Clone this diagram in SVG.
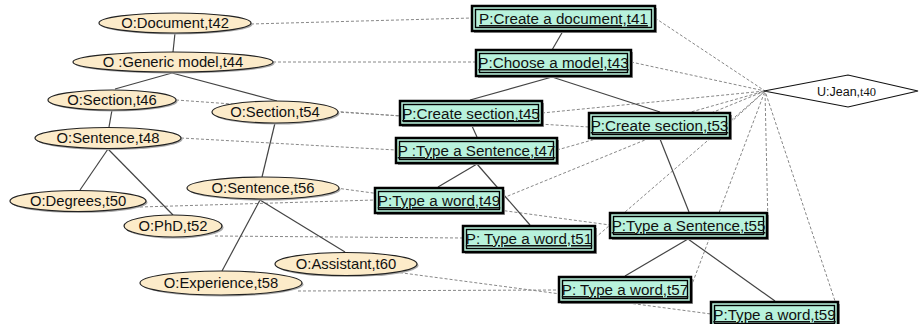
<svg xmlns="http://www.w3.org/2000/svg" width="919" height="324" viewBox="0 0 919 324">
<style>
.o ellipse.f{fill:#fcebc9;stroke:#222;stroke-width:1.2}
.o ellipse.s{fill:#aaa}
.p rect.s{fill:#999}
.p rect.f{fill:#b8f2dc;stroke:#000;stroke-width:2.5}
.p rect.i{fill:none;stroke:#000;stroke-width:1.4}
text{font-family:"Liberation Sans",Arial,sans-serif;font-size:14.8px;fill:#111;text-anchor:middle}
.p text{text-decoration:underline;font-size:15.2px}
.sol line{stroke:#444;stroke-width:1.2}
.dash line{stroke:#888;stroke-width:1;stroke-dasharray:3 2}
</style>
<g id="connectors">
<g class="dash">
<line x1="251" y1="24" x2="472" y2="18"/>
<line x1="273" y1="62" x2="476" y2="62"/>
<line x1="176" y1="100" x2="400" y2="116"/>
<line x1="336" y1="112" x2="589" y2="127"/>
<line x1="181" y1="138" x2="396" y2="150"/>
<line x1="336" y1="188" x2="610" y2="225"/>
<line x1="140" y1="207" x2="375" y2="200"/>
<line x1="215" y1="236" x2="463" y2="238"/>
<line x1="298" y1="291" x2="559" y2="290"/>
<line x1="395" y1="272" x2="711" y2="314"/>
<line x1="655" y1="18" x2="765" y2="91"/>
<line x1="631" y1="62" x2="765" y2="91"/>
<line x1="542" y1="113" x2="765" y2="91"/>
<line x1="557" y1="150" x2="765" y2="91"/>
<line x1="503" y1="198" x2="765" y2="91"/>
<line x1="595" y1="238" x2="765" y2="91"/>
<line x1="730" y1="123" x2="765" y2="91"/>
<line x1="768" y1="226" x2="765" y2="91"/>
<line x1="691" y1="287" x2="765" y2="91"/>
<line x1="838" y1="310" x2="765" y2="91"/>
</g>
<g class="sol">
<line x1="175" y1="33" x2="173" y2="52"/>
<line x1="172" y1="73" x2="115" y2="89"/>
<line x1="172" y1="73" x2="277" y2="101"/>
<line x1="112" y1="110" x2="109" y2="127"/>
<line x1="275" y1="123" x2="262" y2="177"/>
<line x1="108" y1="149" x2="80" y2="190"/>
<line x1="108" y1="149" x2="173" y2="215"/>
<line x1="260" y1="200" x2="222" y2="271"/>
<line x1="260" y1="200" x2="345" y2="252"/>
<line x1="563" y1="31" x2="552" y2="50"/>
<line x1="552" y1="77" x2="470" y2="100"/>
<line x1="552" y1="77" x2="660" y2="112"/>
<line x1="472" y1="126" x2="477" y2="137"/>
<line x1="477" y1="164" x2="438" y2="187"/>
<line x1="477" y1="164" x2="530" y2="225"/>
<line x1="660" y1="139" x2="689" y2="212"/>
<line x1="688" y1="239" x2="625" y2="276"/>
<line x1="688" y1="239" x2="775" y2="301"/>
</g>
</g>
<g id="t42" class="o"><ellipse class="s" cx="176.5" cy="24.5" rx="76" ry="10"/><ellipse class="f" cx="175" cy="23" rx="76" ry="10"/><text x="175" y="28">O:Document,t42</text></g>
<g id="t44" class="o"><ellipse class="s" cx="174.5" cy="63.5" rx="100" ry="10"/><ellipse class="f" cx="173" cy="62" rx="100" ry="10"/><text x="173" y="67">O :Generic model,t44</text></g>
<g id="t46" class="o"><ellipse class="s" cx="113.5" cy="101.5" rx="64" ry="10"/><ellipse class="f" cx="112" cy="100" rx="64" ry="10"/><text x="112" y="105">O:Section,t46</text></g>
<g id="t54" class="o"><ellipse class="s" cx="276.5" cy="113.5" rx="63" ry="11"/><ellipse class="f" cx="275" cy="112" rx="63" ry="11"/><text x="275" y="117">O:Section,t54</text></g>
<g id="t48" class="o"><ellipse class="s" cx="109.5" cy="139.5" rx="73" ry="10.5"/><ellipse class="f" cx="108" cy="138" rx="73" ry="10.5"/><text x="108" y="143">O:Sentence,t48</text></g>
<g id="t56" class="o"><ellipse class="s" cx="264.5" cy="189.5" rx="76" ry="11"/><ellipse class="f" cx="263" cy="188" rx="76" ry="11"/><text x="263" y="193">O:Sentence,t56</text></g>
<g id="t50" class="o"><ellipse class="s" cx="79.5" cy="202.5" rx="68" ry="10.5"/><ellipse class="f" cx="78" cy="201" rx="68" ry="10.5"/><text x="78" y="206">O:Degrees,t50</text></g>
<g id="t52" class="o"><ellipse class="s" cx="174.5" cy="227.5" rx="49" ry="11"/><ellipse class="f" cx="173" cy="226" rx="49" ry="11"/><text x="173" y="231">O:PhD,t52</text></g>
<g id="t60" class="o"><ellipse class="s" cx="347.5" cy="265.5" rx="71" ry="11.5"/><ellipse class="f" cx="346" cy="264" rx="71" ry="11.5"/><text x="346" y="269">O:Assistant,t60</text></g>
<g id="t58" class="o"><ellipse class="s" cx="222.5" cy="284.5" rx="81" ry="12"/><ellipse class="f" cx="221" cy="283" rx="81" ry="12"/><text x="221" y="288">O:Experience,t58</text></g>
<g id="t41" class="p"><rect class="s" x="474" y="8" width="183" height="25"/><rect class="f" x="472" y="6" width="183" height="25"/><rect class="i" x="475.5" y="9.5" width="176" height="18"/><text x="563.5" y="24">P:Create a document,t41</text></g>
<g id="t43" class="p"><rect class="s" x="478" y="52" width="155" height="26"/><rect class="f" x="476" y="50" width="155" height="26"/><rect class="i" x="479.5" y="53.5" width="148" height="19"/><text x="553.5" y="68">P:Choose a model,t43</text></g>
<g id="t45" class="p"><rect class="s" x="402" y="103" width="142" height="24"/><rect class="f" x="400" y="101" width="142" height="24"/><rect class="i" x="403.5" y="104.5" width="135" height="17"/><text x="471" y="119">P:Create section,t45</text></g>
<g id="t53" class="p"><rect class="s" x="591" y="115" width="141" height="25"/><rect class="f" x="589" y="113" width="141" height="25"/><rect class="i" x="592.5" y="116.5" width="134" height="18"/><text x="659.5" y="131">P:Create section,t53</text></g>
<g id="t47" class="p"><rect class="s" x="398" y="140" width="161" height="25"/><rect class="f" x="396" y="138" width="161" height="25"/><rect class="i" x="399.5" y="141.5" width="154" height="18"/><text x="476.5" y="156">P :Type a Sentence,t47</text></g>
<g id="t49" class="p"><rect class="s" x="377" y="190" width="128" height="25"/><rect class="f" x="375" y="188" width="128" height="25"/><rect class="i" x="378.5" y="191.5" width="121" height="18"/><text x="439" y="206">P:Type a word,t49</text></g>
<g id="t51" class="p"><rect class="s" x="465" y="228" width="132" height="26"/><rect class="f" x="463" y="226" width="132" height="26"/><rect class="i" x="466.5" y="229.5" width="125" height="19"/><text x="529" y="244">P: Type a word,t51</text></g>
<g id="t55" class="p"><rect class="s" x="612" y="215" width="157" height="25"/><rect class="f" x="610" y="213" width="157" height="25"/><rect class="i" x="613.5" y="216.5" width="150" height="18"/><text x="688.5" y="231">P:Type a Sentence,t55</text></g>
<g id="t57" class="p"><rect class="s" x="561" y="279" width="132" height="25"/><rect class="f" x="559" y="277" width="132" height="25"/><rect class="i" x="562.5" y="280.5" width="125" height="18"/><text x="625" y="295">P: Type a word,t57</text></g>
<g id="t59" class="p"><rect class="s" x="713" y="304" width="127" height="24"/><rect class="f" x="711" y="302" width="127" height="24"/><rect class="i" x="714.5" y="305.5" width="120" height="18"/><text x="774.5" y="320">P:Type a word,t59</text></g>
<g id="t40"><polygon points="764,91 848,75 918,91 848,107" fill="#fff" stroke="#111" stroke-width="1.2"/><text x="817" y="96" style="font-size:12.5px;text-anchor:start">U:Jean,<tspan style="font-family:'Liberation Serif','Times New Roman',serif">t40</tspan></text></g>
</svg>
